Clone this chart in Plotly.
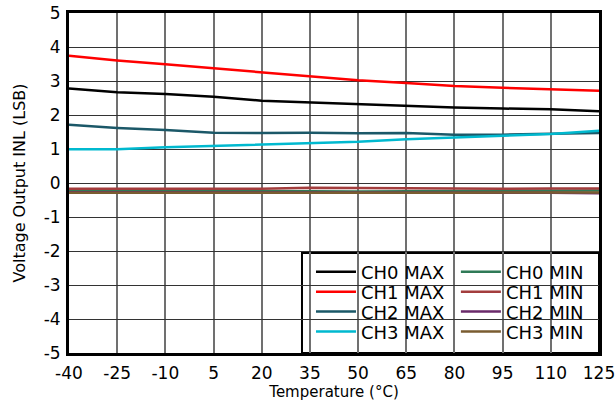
import plotly.graph_objects as go

temps = [-40, -25, -10, 5, 20, 35, 50, 65, 80, 95, 110, 125]

ch0_max = [2.78, 2.67, 2.62, 2.54, 2.42, 2.37, 2.31, 2.26, 2.22, 2.19, 2.17, 2.11]
ch1_max = [3.74, 3.60, 3.49, 3.37, 3.24, 3.14, 3.02, 2.94, 2.85, 2.80, 2.76, 2.71]
ch2_max = [1.71, 1.62, 1.56, 1.48, 1.47, 1.48, 1.46, 1.47, 1.42, 1.42, 1.45, 1.47]
ch3_max = [0.99, 0.99, 1.05, 1.09, 1.12, 1.17, 1.21, 1.29, 1.34, 1.39, 1.44, 1.54]

ch0_min = [-0.22, -0.22, -0.22, -0.22, -0.23, -0.24, -0.25, -0.24, -0.24, -0.23, -0.23, -0.22]
ch1_min = [-0.17, -0.17, -0.17, -0.17, -0.17, -0.14, -0.15, -0.15, -0.16, -0.17, -0.16, -0.16]
ch2_min = [-0.27, -0.27, -0.27, -0.27, -0.27, -0.28, -0.29, -0.28, -0.28, -0.28, -0.29, -0.30]
ch3_min = [-0.29, -0.29, -0.29, -0.29, -0.29, -0.29, -0.31, -0.29, -0.29, -0.28, -0.28, -0.28]

x_ticks = [-40, -25, -10, 5, 20, 35, 50, 65, 80, 95, 110, 125]
y_ticks = [-5, -4, -3, -2, -1, 0, 1, 2, 3, 4, 5]

max_names = ["CH0 MAX", "CH1 MAX", "CH2 MAX", "CH3 MAX"]
max_vals = [ch0_max, ch1_max, ch2_max, ch3_max]
max_cols = ["#000000", "#ff0000", "#1b5868", "#00b9cf"]
min_names = ["CH0 MIN", "CH1 MIN", "CH2 MIN", "CH3 MIN"]
min_vals = [ch0_min, ch1_min, ch2_min, ch3_min]
min_cols = ["#2f7a57", "#a33d3d", "#6a2a6a", "#7a5c30"]

FONT = "DejaVu Sans, Liberation Sans, Arial, sans-serif"

fig = go.Figure()
# MIN traces first (legends 5..8), then MAX (legends 1..4)
for i, (n, v, c) in enumerate(zip(min_names, min_vals, min_cols)):
    fig.add_trace(go.Scatter(x=temps, y=v, mode="lines", name=n,
                             line=dict(color=c, width=2.5),
                             legend="legend%d" % (i + 5)))
for i, (n, v, c) in enumerate(zip(max_names, max_vals, max_cols)):
    fig.add_trace(go.Scatter(x=temps, y=v, mode="lines", name=n,
                             line=dict(color=c, width=2.5),
                             legend="legend" if i == 0 else "legend%d" % (i + 1)))

row_y = [0.238, 0.179, 0.121, 0.062]
col_x = [0.4566, 0.730]
legends = {}
for col in range(2):
    for r in range(4):
        idx = col * 4 + r + 1
        key = "legend" if idx == 1 else "legend%d" % idx
        legends[key] = dict(x=col_x[col], y=row_y[r], xanchor="left", yanchor="middle",
                            bgcolor="rgba(0,0,0,0)", borderwidth=0,
                            font=dict(family=FONT, size=18, color="#000"),
                            itemwidth=40)

fig.update_layout(
    width=616, height=406,
    margin=dict(l=69, r=17, t=13, b=53, autoexpand=False),
    paper_bgcolor="white", plot_bgcolor="white",
    font=dict(family=FONT, size=17, color="#000"),
    showlegend=True,
    shapes=[dict(type="rect", xref="paper", yref="paper",
                 x0=0.4396, x1=1.0, y0=0.0, y1=0.294,
                 line=dict(color="black", width=2), fillcolor="white", layer="below")],
    **legends,
)

fig.update_xaxes(range=[-40, 125], tickvals=x_ticks, ticktext=[str(t) for t in x_ticks],
                 showgrid=True, gridcolor="#707070", gridwidth=1.5,
                 showline=True, linecolor="black", linewidth=3, mirror=True,
                 ticks="", zeroline=False, automargin=False, ticklabelstandoff=3,
                 title=dict(text="Temperature (°C)", font=dict(family=FONT, size=15), standoff=3),
                 tickfont=dict(family=FONT, size=17))
fig.update_yaxes(range=[-5, 5], tickvals=y_ticks, ticktext=[str(t) for t in y_ticks],
                 showgrid=True, gridcolor="#333", gridwidth=1,
                 showline=True, linecolor="black", linewidth=3, mirror=True,
                 ticks="", zeroline=False, automargin=False, ticklabelstandoff=2,
                 title=dict(text="Voltage Output INL (LSB)", font=dict(family=FONT, size=16), standoff=15),
                 tickfont=dict(family=FONT, size=17))

fig.write_html("out.html", config={"displayModeBar": False},
               post_script="document.body.style.margin='0';")
